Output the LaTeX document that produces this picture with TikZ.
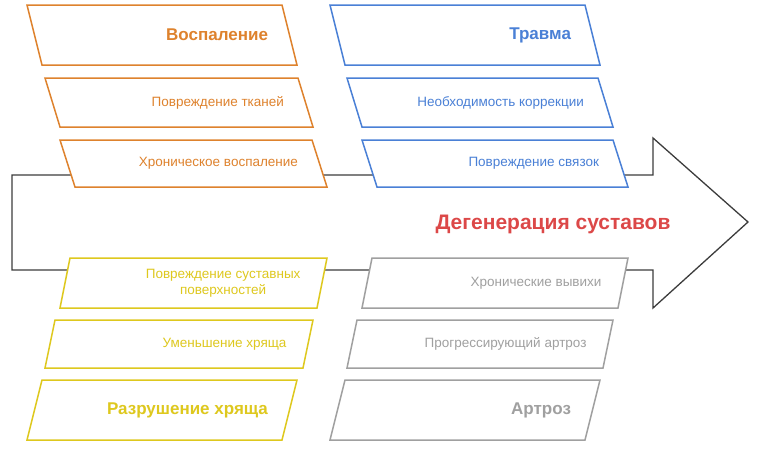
\documentclass[tikz,border=0pt]{standalone}
\usepackage{fontspec}
\setmainfont{Liberation Sans}
\usetikzlibrary{calc}
\definecolor{cOrange}{RGB}{222,130,45}
\definecolor{cBlue}{RGB}{74,128,214}
\definecolor{cYellow}{RGB}{222,200,30}
\definecolor{cGray}{RGB}{160,160,160}
\definecolor{cRed}{RGB}{220,72,72}
\definecolor{cLine}{RGB}{60,60,60}
% slanted box: name, x left, x right, y top, y bottom, shift of bottom, colour, text style, text
\newcommand{\slantbox}[9]{%
  \draw[#7,line width=1.5pt,fill=white] (#2,#4) -- (#3,#4) -- ($(#3,#5)+(#6,0)$) -- ($(#2,#5)+(#6,0)$) -- cycle;
  \node[#8,text=#7,anchor=east,align=center] (#1) at ($(#3,#4)!0.5!(#3,#5)+(#6/2-18,0)$) {#9};
}
\begin{document}
\begin{tikzpicture}[x=1pt,y=-1pt,
  title/.style={font=\fontsize{17}{20}\selectfont\bfseries},
  small/.style={font=\fontsize{13.5}{16}\selectfont}]
\useasboundingbox (0,0) rectangle (760,450);

% spine arrow
\draw[cLine,line width=1.3pt,line join=miter] (12,175) -- (653,175) -- (653,138) -- (748,222)
  -- (653,308) -- (653,270) -- (12,270) -- cycle;
\node[font=\fontsize{21}{24}\selectfont\bfseries,text=cRed] (effect) at (553,224) {Дегенерация суставов};

% upper bones
\slantbox{inflam}{27}{282}{5}{65}{15}{cOrange}{title}{Воспаление}
\slantbox{tissue}{45}{298}{78}{127}{15}{cOrange}{small}{Повреждение тканей}
\slantbox{chronic}{60}{312}{140}{187}{15}{cOrange}{small}{Хроническое воспаление}
\slantbox{trauma}{330}{585}{5}{65}{15}{cBlue}{title}{Травма}
\slantbox{correct}{347}{598}{78}{127}{15}{cBlue}{small}{Необходимость коррекции}
\slantbox{ligament}{362}{613}{140}{187}{15}{cBlue}{small}{Повреждение связок}

% lower bones
\slantbox{surface}{70}{327}{258}{308}{-10}{cYellow}{small}{Повреждение суставных\\поверхностей}
\slantbox{reduce}{55}{313}{320}{368}{-10}{cYellow}{small}{Уменьшение хряща}
\slantbox{destroy}{42}{297}{380}{440}{-15}{cYellow}{title}{Разрушение хряща}
\slantbox{disloc}{372}{628}{258}{308}{-10}{cGray}{small}{Хронические вывихи}
\slantbox{progress}{357}{613}{320}{368}{-10}{cGray}{small}{Прогрессирующий артроз}
\slantbox{arthro}{345}{600}{380}{440}{-15}{cGray}{title}{Артроз}
\end{tikzpicture}
\end{document}
